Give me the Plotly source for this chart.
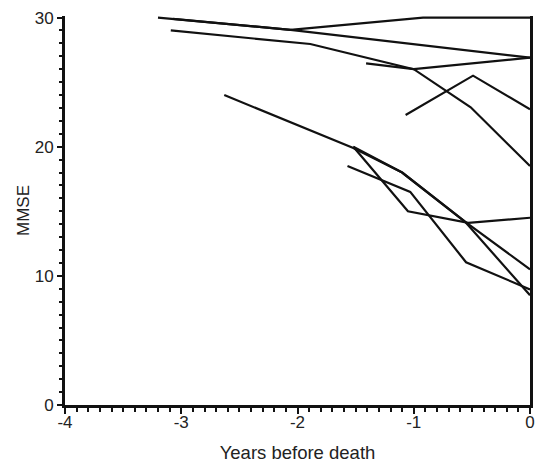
import plotly.graph_objects as go

# Each subject's MMSE trajectory (years before death, MMSE score)
s1_x = [-3.20, -2.06, -0.92, 0.0]
s1_y = [30.0, 29.05, 30.0, 30.0]
s2_x = [-3.07, -2.06, 0.0]
s2_y = [29.9, 29.05, 26.9]
s3_x = [-3.09, -1.89, -1.0, -0.51, 0.0]
s3_y = [29.0, 27.95, 26.0, 23.05, 18.5]
s4_x = [-1.41, -1.0, 0.0]
s4_y = [26.45, 26.0, 26.9]
s5_x = [-1.07, -0.49, 0.0]
s5_y = [22.45, 25.5, 22.9]
s6_x = [-2.63, -1.52, -1.10, -0.56, 0.0]
s6_y = [24.0, 19.9, 18.0, 14.2, 10.5]
s7_x = [-1.52, -1.10, -0.56, 0.0]
s7_y = [20.0, 18.0, 14.2, 8.5]
s8_x = [-1.52, -1.05, -0.53, 0.0]
s8_y = [20.0, 15.0, 14.1, 14.5]
s9_x = [-1.57, -1.03, -0.55, 0.0]
s9_y = [18.5, 16.5, 11.05, 8.95]

subjects = [(s1_x, s1_y), (s2_x, s2_y), (s3_x, s3_y), (s4_x, s4_y), (s5_x, s5_y),
            (s6_x, s6_y), (s7_x, s7_y), (s8_x, s8_y), (s9_x, s9_y)]

x_ticks = [-4, -3, -2, -1, 0]
y_ticks = [0, 10, 20, 30]

fig = go.Figure()
for xs, ys in subjects:
    fig.add_trace(go.Scatter(x=xs, y=ys, mode="lines",
                             line=dict(color="#111111", width=2.2),
                             cliponaxis=False,
                             showlegend=False, hoverinfo="skip"))

font = dict(family="Liberation Sans, Arial, sans-serif", size=17, color="#222222")

fig.update_layout(
    width=544, height=463,
    margin=dict(l=65, r=14, t=16, b=58),
    paper_bgcolor="white", plot_bgcolor="white",
    font=font,
)
fig.update_xaxes(
    range=[-4, 0], tickvals=x_ticks, ticktext=[str(v) for v in x_ticks],
    automargin=False,
    showgrid=False, zeroline=False,
    showline=True, linecolor="#111111", linewidth=3,
    ticks="outside", ticklen=6, tickwidth=2, tickcolor="#111111",
    ticklabelstandoff=-6,
    minor=dict(dtick=0.1, ticks="outside", ticklen=4, tickwidth=2, tickcolor="#111111", showgrid=False),
    title=dict(text="Years before death", font=dict(size=18.5), standoff=15),
    tickfont=dict(size=17),
)
fig.update_yaxes(
    range=[0, 30.12], tickvals=y_ticks, ticktext=[str(v) for v in y_ticks],
    automargin=False,
    showgrid=False, zeroline=False,
    showline=True, linecolor="#111111", linewidth=3, mirror=True,
    ticks="outside", ticklen=5, tickwidth=2, tickcolor="#111111",
    minor=dict(dtick=1, ticks="outside", ticklen=3, tickwidth=2, tickcolor="#111111", showgrid=False),
    title=dict(text="MMSE", font=dict(size=17), standoff=1),
    tickfont=dict(size=17),
)

fig.write_html("out.html",
               config={"displayModeBar": False},
               post_script="document.body.style.margin='0px';document.body.style.padding='0px';")
